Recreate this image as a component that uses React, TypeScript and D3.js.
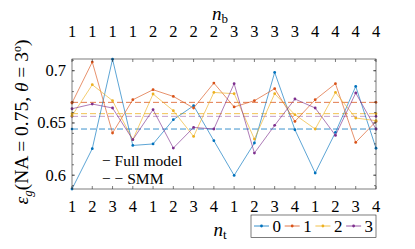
import React from "react";
import * as d3 from "d3";

const nt = [1, 2, 3, 4, 1, 2, 3, 4, 1, 2, 3, 4, 1, 2, 3, 4];
const nb = [1, 1, 1, 1, 2, 2, 2, 2, 3, 3, 3, 3, 4, 4, 4, 4];
const seriesNames = ["0", "1", "2", "3"];
const colors = ["#0072BD", "#D95319", "#EDB120", "#7E2F8E"];

const s0 = [0.5868, 0.6254, 0.711, 0.6285, 0.6299, 0.6531, 0.6665, 0.633, 0.5998, 0.6308, 0.6984, 0.6435, 0.6021, 0.641, 0.685, 0.6258];
const s1 = [0.6691, 0.7083, 0.6404, 0.6722, 0.6818, 0.6754, 0.6643, 0.6882, 0.6653, 0.6713, 0.6828, 0.6515, 0.6722, 0.6876, 0.6314, 0.6515];
const s2 = [0.6569, 0.6866, 0.6713, 0.634, 0.6777, 0.6617, 0.6371, 0.6792, 0.678, 0.6346, 0.678, 0.6579, 0.6442, 0.6792, 0.6547, 0.6522];
const s3 = [0.6636, 0.6681, 0.6643, 0.634, 0.6627, 0.626, 0.6457, 0.6442, 0.6876, 0.6212, 0.6477, 0.6729, 0.6643, 0.6381, 0.6787, 0.6442];
const smm = [0.6442, 0.6697, 0.6589, 0.6563];
const noteLines = ["− Full model", "− − SMM"];

const yMajor = [0.6, 0.65, 0.7];
const yMinor = [0.59, 0.6, 0.61, 0.62, 0.63, 0.64, 0.65, 0.66, 0.67, 0.68, 0.69, 0.7, 0.71];
const yDomain = [0.5868, 0.7112];

const W = 415, H = 249;
const L = 72, R = 376, T = 59, B = 189;
const FONT = "Liberation Serif";
const AX = "#262626";

export default function App() {
  const series = [s0, s1, s2, s3];
  const idx = d3.range(1, 17);
  const x = d3.scaleLinear().domain([1, 16]).range([L, R]);
  const y = d3.scaleLinear().domain(yDomain).range([B, T]);
  const line = d3.line<number>().x((_, i) => x(i + 1)).y((d) => y(d));
  const fmt = d3.format("");
  const tl = 3;
  const ts: React.CSSProperties = { fontFamily: FONT };

  return (
    <svg width={W} height={H} style={{ position: "fixed", left: 0, top: 0, background: "#fff", fontFamily: FONT }}>
      <rect x={0} y={0} width={W} height={H} fill="#fff" />
      {smm.map((v, k) => (
        <g key={"smm" + k}>
          <line x1={x(1)} x2={x(16)} y1={y(v)} y2={y(v)} stroke={colors[k]} strokeWidth={0.9} strokeDasharray="6,3" opacity={k === 3 ? 0.5 : 0.85} />
          <circle cx={x(1)} cy={y(v)} r={1.3} fill={colors[k]} />
          <circle cx={x(16)} cy={y(v)} r={1.3} fill={colors[k]} />
        </g>
      ))}
      {series.map((s, k) => (
        <g key={"s" + k}>
          <path d={line(s) || ""} fill="none" stroke={colors[k]} strokeWidth={0.75} opacity={0.85} />
          {s.map((v, i) => (
            <circle key={i} cx={x(i + 1)} cy={y(v)} r={1.4} fill={colors[k]} />
          ))}
        </g>
      ))}
      <rect x={L} y={T} width={R - L} height={B - T} fill="none" stroke={AX} strokeWidth={0.6} />
      {idx.map((i) => (
        <g key={"xt" + i}>
          <line x1={x(i)} x2={x(i)} y1={B} y2={B - tl} stroke={AX} strokeWidth={0.6} />
          <line x1={x(i)} x2={x(i)} y1={T} y2={T + tl} stroke={AX} strokeWidth={0.6} />
          <text style={ts} x={x(i)} y={212} fontSize={16.5} textAnchor="middle" fill="#000">{fmt(nt[i - 1])}</text>
          <text style={ts} x={x(i)} y={37} fontSize={16.5} textAnchor="middle" fill="#000">{fmt(nb[i - 1])}</text>
        </g>
      ))}
      {yMinor.filter((v) => v >= yDomain[0] && v <= yDomain[1]).map((v) => (
        <g key={"ym" + v}>
          <line x1={L} x2={L + 2} y1={y(v)} y2={y(v)} stroke={AX} strokeWidth={0.6} />
          <line x1={R} x2={R - 2} y1={y(v)} y2={y(v)} stroke={AX} strokeWidth={0.6} />
        </g>
      ))}
      {yMajor.map((v) => (
        <g key={"yM" + v}>
          <line x1={L} x2={L + tl} y1={y(v)} y2={y(v)} stroke={AX} strokeWidth={0.6} />
          <line x1={R} x2={R - tl} y1={y(v)} y2={y(v)} stroke={AX} strokeWidth={0.6} />
          <text style={ts} x={66} y={y(v) + 5.5} fontSize={16.5} textAnchor="end" fill="#000">{String(v)}</text>
        </g>
      ))}
      <text style={ts} x={(L + R) / 2 - 4} y={236} fontSize={19} textAnchor="middle" fill="#000">
        <tspan fontStyle="italic">n</tspan>
        <tspan fontSize={13} dy={3}>t</tspan>
      </text>
      <text style={ts} x={(L + R) / 2 - 4} y={20} fontSize={19} textAnchor="middle" fill="#000">
        <tspan fontStyle="italic">n</tspan>
        <tspan fontSize={13} dy={3}>b</tspan>
      </text>
      <text style={ts} transform={`translate(28,${(T + B) / 2 - 2}) rotate(-90)`} fontSize={19.5} textAnchor="middle" fill="#000">
        <tspan fontStyle="italic">ε</tspan>
        <tspan fontStyle="italic" fontSize={13} dy={4}>g</tspan>
        <tspan dy={-4}>(NA = 0.75, </tspan>
        <tspan fontStyle="italic">θ</tspan>
        <tspan> = 3</tspan>
        <tspan fontSize={12} dy={-7}>o</tspan>
        <tspan dy={7}>)</tspan>
      </text>
      {noteLines.map((t, i) => (
        <text key={"note" + i} style={ts} x={102} y={166 + i * 18} fontSize={15.5} fill="#000">{t}</text>
      ))}
      <rect x={251} y={215} width={125} height={22.5} fill="#fff" stroke={AX} strokeWidth={0.6} />
      {seriesNames.map((n, k) => {
        const x0 = 254 + k * 30.7;
        return (
          <g key={"lg" + k}>
            <line x1={x0} x2={x0 + 15} y1={226} y2={226} stroke={colors[k]} strokeWidth={0.8} />
            <circle cx={x0 + 7.5} cy={226} r={1.4} fill={colors[k]} />
            <text style={ts} x={x0 + 18.5} y={232} fontSize={17} fill="#000">{n}</text>
          </g>
        );
      })}
    </svg>
  );
}
